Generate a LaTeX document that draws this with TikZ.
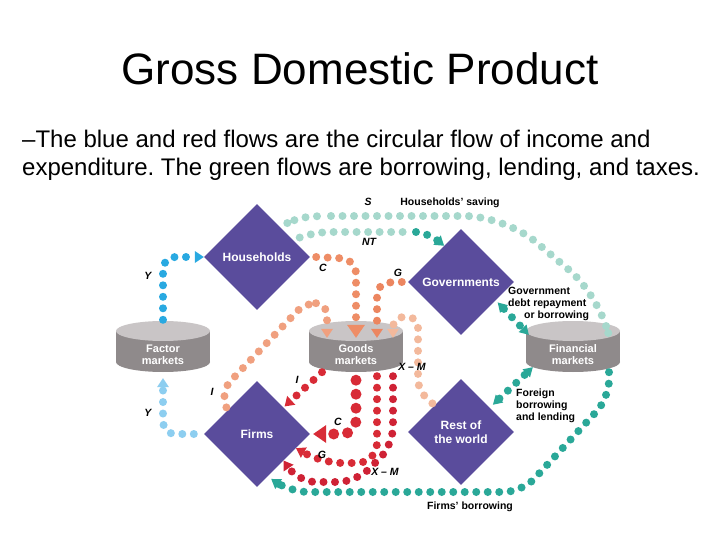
\documentclass[tikz,border=0pt]{standalone}
\usepackage{fontspec}
\setmainfont{Liberation Sans}
\usetikzlibrary{shapes.geometric,arrows.meta}

\definecolor{sectorpurple}{HTML}{5A4C9C}
\definecolor{cyltop}{HTML}{C9C5C6}
\definecolor{cylbody}{HTML}{8F8A8B}
\definecolor{ydark}{HTML}{29A9E1}
\definecolor{ylight}{HTML}{8DCEF0}
\definecolor{spale}{HTML}{A6D8CC}
\definecolor{tealflow}{HTML}{2AA898}
\definecolor{corange}{HTML}{EE8D66}
\definecolor{gorange}{HTML}{EC8660}
\definecolor{iorange}{HTML}{F0A07F}
\definecolor{xpale}{HTML}{F3B99C}
\definecolor{redflow}{HTML}{D82B36}
\definecolor{xred}{HTML}{CF2235}

\frenchspacing
\begin{document}
\begin{tikzpicture}[x=1pt,y=-1pt,
   sector/.style={diamond,fill=sectorpurple,text=white,font=\fontsize{12}{14}\selectfont\bfseries,
      minimum width=106pt,minimum height=106pt,inner sep=0pt,align=center},
   mkt/.style={minimum width=94pt,minimum height=34pt,inner sep=0pt,text=white,
      font=\fontsize{11}{12}\selectfont\bfseries,align=center},
   flow/.style={line width=8pt,line cap=round,dash pattern=on 0pt off 11.5pt,rounded corners=12pt},
   bigflow/.style={line width=11pt,line cap=round,dash pattern=on 0pt off 14pt,rounded corners=14pt},
   arrowhd/.style={-{Triangle[width=12pt,length=9pt,line width=0pt]}},
   bigarrowhd/.style={-{Triangle[width=18pt,length=13pt,line width=0pt]}},
   twoway/.style={{Triangle[width=11pt,length=9pt,line width=0pt]}-{Triangle[width=11pt,length=9pt,line width=0pt]}},
   lbl/.style={font=\fontsize{10.5}{12}\selectfont\bfseries,inner sep=0pt},
   sym/.style={font=\fontsize{10.5}{12}\selectfont\bfseries\itshape,inner sep=0pt}]
   \fill[white] (0,0) rectangle (720,540);
   \useasboundingbox (0,0) rectangle (720,540);

   % title and text
   \node[anchor=base,font=\fontsize{44}{50}\selectfont] (title) at (360,85) {Gross Domestic Product};
   \node[anchor=base west,inner sep=0pt,font=\fontsize{24}{28}\selectfont] (line1) at (22,148)
      {--The blue and red flows are the circular flow of income and};
   \node[anchor=base west,inner sep=0pt,font=\fontsize{24}{28}\selectfont] (line2) at (22,176)
      {expenditure. The green flows are borrowing, lending, and taxes.};

   % markets
   \foreach \n/\x/\t in {factor/163/Factor, goods/356/Goods, fin/573/Financial}{
      \fill[cylbody] (\x-47,331) rectangle (\x+47,362);
      \fill[cylbody] (\x,362) ellipse [x radius=47,y radius=10];
      \fill[cyltop] (\x,331) ellipse [x radius=47,y radius=10];
      \node[mkt] (\n) at (\x,355) {\t\\markets};
   }

   % sectors
   \node[sector] (hh) at (257,257) {Households};
   \node[sector] (gov) at (461,282) {Governments};
   \node[sector] (firms) at (257,434) {Firms};
   \node[sector] (row) at (461,432) {Rest of\\the world};

   % income
   \draw[flow,ydark,arrowhd] ([yshift=18pt]factor.north) -- (factor.north |- hh.west) -- (hh.west);
   \draw[flow,ylight,arrowhd] ([xshift=-10pt]firms.west) -- (factor.south |- firms.west) -- ([yshift=-6pt]factor.south);

   % saving, taxes, borrowing
   \draw[flow,spale] ([shift={(6pt,5pt)}]hh.50) -- (296,218) -- (320,216);
   \draw[flow,spale,rounded corners=40pt] (331,216) -- (505,216) -- (600,296) -- (608,332);
   \draw[flow,spale] ([xshift=9pt]hh.30) -- (318,232) -- (405,232);
   \draw[flow,tealflow,arrowhd] (416,232) -- (428,233) -- (gov.115);
   \draw[flow,tealflow,twoway] ([shift={(3pt,-1pt)}]gov.-30) -- ([shift={(3pt,3pt)}]fin.north west);
   \draw[flow,tealflow,twoway] ([shift={(3pt,3pt)}]row.40) -- ([shift={(7pt,5pt)}]fin.south west);
   \draw[flow,tealflow,arrowhd,rounded corners=18pt] ([xshift=36pt]fin.south) -- (609,398) -- (522,492) -- (290,492) -- ([shift={(3pt,-3pt)}]firms.-75);

   % spending into goods markets
   \draw[flow,corange,bigarrowhd,rounded corners=15pt] ([xshift=6pt]hh.east) -- (356,259) -- (goods.north);
   \draw[flow,gorange,arrowhd] ([xshift=-6pt]gov.west) -- (377,283) -- ([xshift=21pt]goods.north);
   \draw[flow,iorange,arrowhd] ([xshift=-4pt]firms.135) -- (222,390) -- (305,303) -- (327,303) -- ([xshift=-29pt]goods.north);
   \draw[flow,xpale,arrowhd,rounded corners=10pt] ([shift={(-2pt,2pt)}]row.135) -- (418,390) -- (418,317) -- (393,317) -- ([xshift=37pt]goods.north);

   % goods markets to firms
   \draw[flow,redflow,arrowhd] ([xshift=-34pt]goods.south) -- ([shift={(1pt,1pt)}]firms.45);
   \draw[bigflow,redflow,bigarrowhd] ([yshift=-8pt]goods.south) -- (356,434) -- ([xshift=3pt]firms.east);
   \draw[flow,redflow,arrowhd,rounded corners=20pt] ([xshift=21pt,yshift=-4pt]goods.south) -- (377,463) -- (322,463) -- (firms.-20);
   \draw[flow,xred,arrowhd,rounded corners=18pt] ([xshift=37pt,yshift=-4pt]goods.south) -- (393,445) -- (356,482) -- (298,482) -- (firms.-45);

   % labels
   \node[sym] (y1) at (148,276) {Y};
   \node[sym] (y2) at (148,413) {Y};
   \node[sym] (s) at (368,202) {S};
   \node[lbl] (saving) at (450,203) {Households' saving};
   \node[sym] (nt) at (369,242) {NT};
   \node[sym] (c1) at (323,268) {C};
   \node[sym] (g1) at (398,273) {G};
   \node[lbl,align=left,anchor=north west] (debt) at (508,287) {Government\\debt repayment\\\hspace*{16pt}or borrowing};
   \node[sym] (i1) at (212,392) {I};
   \node[sym] (i2) at (297,380) {I};
   \node[sym] (xm1) at (412,367) {X -- M};
   \node[sym] (c2) at (338,422) {C};
   \node[sym] (g2) at (322,455) {G};
   \node[sym] (xm2) at (385,472) {X -- M};
   \node[lbl,align=left,anchor=north west] (foreign) at (516,389) {Foreign\\borrowing\\and lending};
   \node[lbl] (fb) at (470,507) {Firms' borrowing};
\end{tikzpicture}
\end{document}
